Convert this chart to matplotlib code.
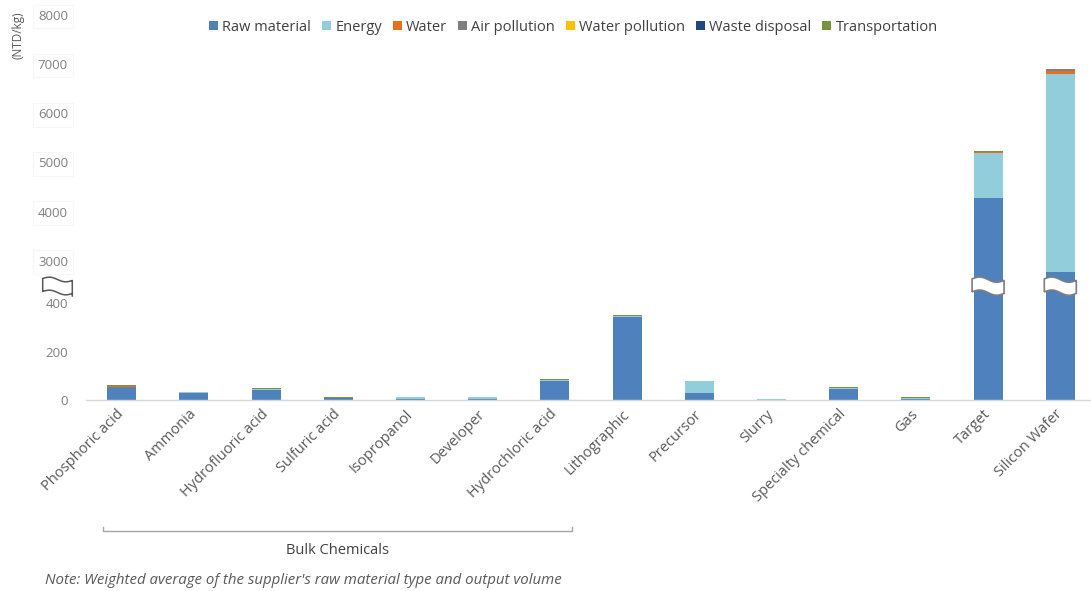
import numpy as np
import matplotlib
matplotlib.use("Agg")
import matplotlib.pyplot as plt
import matplotlib.transforms as mtransforms
from matplotlib.patches import Patch, Polygon
from matplotlib.lines import Line2D

# ---- data -------------------------------------------------------------
categories = ["Phosphoric acid", "Ammonia", "Hydrofluoric acid", "Sulfuric acid",
              "Isopropanol", "Developer", "Hydrochloric acid", "Lithographic",
              "Precursor", "Slurry", "Specialty chemical", "Gas", "Target",
              "Silicon Wafer"]

raw_material    = [54, 29, 39, 6, 1, 1, 78, 344, 26, 0, 44, 1, 4280, 2330]
energy          = [0.5, 2, 6, 1, 9, 10, 2, 3, 50, 2, 6, 8, 915, 4463]
water           = [1.5, 0, 0, 0, 0, 0, 0, 0, 0, 0, 0, 0, 8, 73]
air_pollution   = [1, 0, 0, 0, 0, 0, 0, 0, 0, 0, 0, 0, 6, 41]
water_pollution = [0.5, 0, 0, 0, 0, 0, 0, 0, 0, 0, 0, 0, 3, 0]
waste_disposal  = [0.5, 0, 0, 0, 0, 0, 0, 0, 0, 0, 0, 0, 2, 0]
transportation  = [2.5, 3, 3, 4, 2, 2, 4, 4, 3, 2.5, 4, 2, 14, 0]

series_names = ["Raw material", "Energy", "Water", "Air pollution",
                "Water pollution", "Waste disposal", "Transportation"]
series_values = [raw_material, energy, water, air_pollution,
                 water_pollution, waste_disposal, transportation]
series_colors = ["#4F81BD", "#92CDDC", "#E8701A", "#7F7F7F",
                 "#FFC000", "#1F497D", "#77933C"]

y_ticks = [0, 200, 400, 3000, 4000, 5000, 6000, 7000, 8000]
break_value = 1500          # value drawn inside the axis break
group_label = "Bulk Chemicals"
group_first, group_last = 0, 6
y_label = "(NTD/kg)"
note = "Note: Weighted average of the supplier's raw material type and output volume"

# ---- broken value axis: compressed gap between 400 and 3000 ------------
val_knots = np.array([0.0, 400.0, 3000.0, 8000.0])
pos_knots = np.array([0.0, 96.2, 139.0, 384.7])


def fwd(v):
    return np.interp(np.asarray(v, dtype=float), val_knots, pos_knots)


def inv(p):
    return np.interp(np.asarray(p, dtype=float), pos_knots, val_knots)


W, H = 1091, 591
fig = plt.figure(figsize=(W / 100, H / 100), dpi=100)
plt.rcParams["font.family"] = ["Open Sans", "DejaVu Sans"]

ax_left, ax_base, ax_top = 85.6, 399.7, 15.0
ax = fig.add_axes([ax_left / W, (H - ax_base) / H, 1 - ax_left / W, (ax_base - ax_top) / H])
ax.set_yscale("function", functions=(fwd, inv))
ax.set_ylim(0, 8000)
n = len(categories)
ax.set_xlim(-0.5, -0.5 + (W - ax_left) / 72.2)

x = np.arange(n)
bottom = np.zeros(n)
for name, vals, col in zip(series_names, series_values, series_colors):
    vals = np.asarray(vals, dtype=float)
    ax.bar(x, vals, width=0.4, bottom=bottom, color=col, linewidth=0, label=name)
    bottom += vals

for s in ["top", "right", "left"]:
    ax.spines[s].set_visible(False)
ax.spines["bottom"].set_color("#D9D9D9")
ax.spines["bottom"].set_linewidth(1.0)

ax.set_yticks(y_ticks)
ax.set_yticklabels([str(t) for t in y_ticks])
ax.tick_params(axis="y", length=0, pad=12.7, labelsize=9.5, labelcolor="#7F7F7F")
for t, lab in zip(y_ticks, ax.get_yticklabels()):
    if t >= 3000:
        lab.set_bbox(dict(boxstyle="square,pad=0.4", fc="white", ec="#F7F7F7", lw=0.8))

ax.set_xticks(x)
ax.set_xticklabels(categories, rotation=45, ha="right", va="center",
                   rotation_mode="anchor", fontsize=10.5, color="#595959")
ax.tick_params(axis="x", length=0, pad=9)

# legend
handles = [Patch(facecolor=c, edgecolor="none", label=nm)
           for nm, c in zip(series_names, series_colors)]
fig.legend(handles=handles, loc="center", bbox_to_anchor=(573.5 / W, 1 - 27.5 / H),
           ncol=7, frameon=False, handlelength=0.6, handleheight=0.6,
           handletextpad=0.3, columnspacing=0.75, fontsize=10.5,
           labelcolor="#404040")

# pixel transform for figure annotations (origin top-left, y down)
pix = mtransforms.Affine2D().scale(1, -1).translate(0, H)

fig.canvas.draw()

# wavy white breaks across the bars that span the gap
stack_tops = bottom
for i in range(n):
    if raw_material[i] < break_value < stack_tops[i] or raw_material[i] > break_value:
        cx, cy = ax.transData.transform((x[i], break_value))
        t = np.linspace(0, 1, 40)
        half_w = 16.0
        xs = cx - half_w + 2 * half_w * t
        top = cy + 6.5 + 2.2 * np.sin(2 * np.pi * t) - 1.5 * t
        bot = cy - 6.5 + 2.2 * np.sin(2 * np.pi * t) - 1.5 * t
        verts = np.vstack([np.column_stack([xs, top]),
                           np.column_stack([xs[::-1], bot[::-1]])])
        poly = Polygon(verts, closed=True, facecolor="white", edgecolor="#7F7F7F",
                       linewidth=1.2, transform=mtransforms.IdentityTransform(),
                       zorder=5)
        fig.add_artist(poly)

# axis break mark left of the value axis
t = np.linspace(0, 1, 30)
bx0, bx1 = 42.7, 72.3
xs = bx0 + (bx1 - bx0) * t
top_wave = 278.5 - 1.8 * np.sin(2 * np.pi * t) + 2.0 * t
bot_wave = 291.5 - 1.8 * np.sin(2 * np.pi * t) + 2.0 * t
mark = np.vstack([[bx1, 296.0],
                  np.column_stack([xs[::-1], top_wave[::-1]]),
                  np.column_stack([xs, bot_wave])])
fig.add_artist(Line2D(mark[:, 0], mark[:, 1], color="#595959", linewidth=1.1,
                      transform=pix))

# bracket for the bulk chemicals group
gx0 = ax.transData.transform((group_first - 0.26, 0))[0]
gx1 = ax.transData.transform((group_last + 0.23, 0))[0]
by = 531.0
fig.add_artist(Line2D([gx0, gx0, gx1, gx1], [526.5, by, by, 526.5], color="#A6A6A6",
                      linewidth=1.0, transform=pix))
fig.text((gx0 + gx1) / 2 / W, 1 - 550 / H, group_label, ha="center", va="center",
         fontsize=10.5, color="#404040")

fig.text(18 / W, 1 - 35 / H, y_label, rotation=90, ha="center", va="center",
         fontsize=8.5, color="#595959")
fig.text(45 / W, 1 - 580 / H, note, ha="left", va="center", fontsize=10.8,
         style="italic", color="#595959")

fig.savefig("out.png", dpi=100)
